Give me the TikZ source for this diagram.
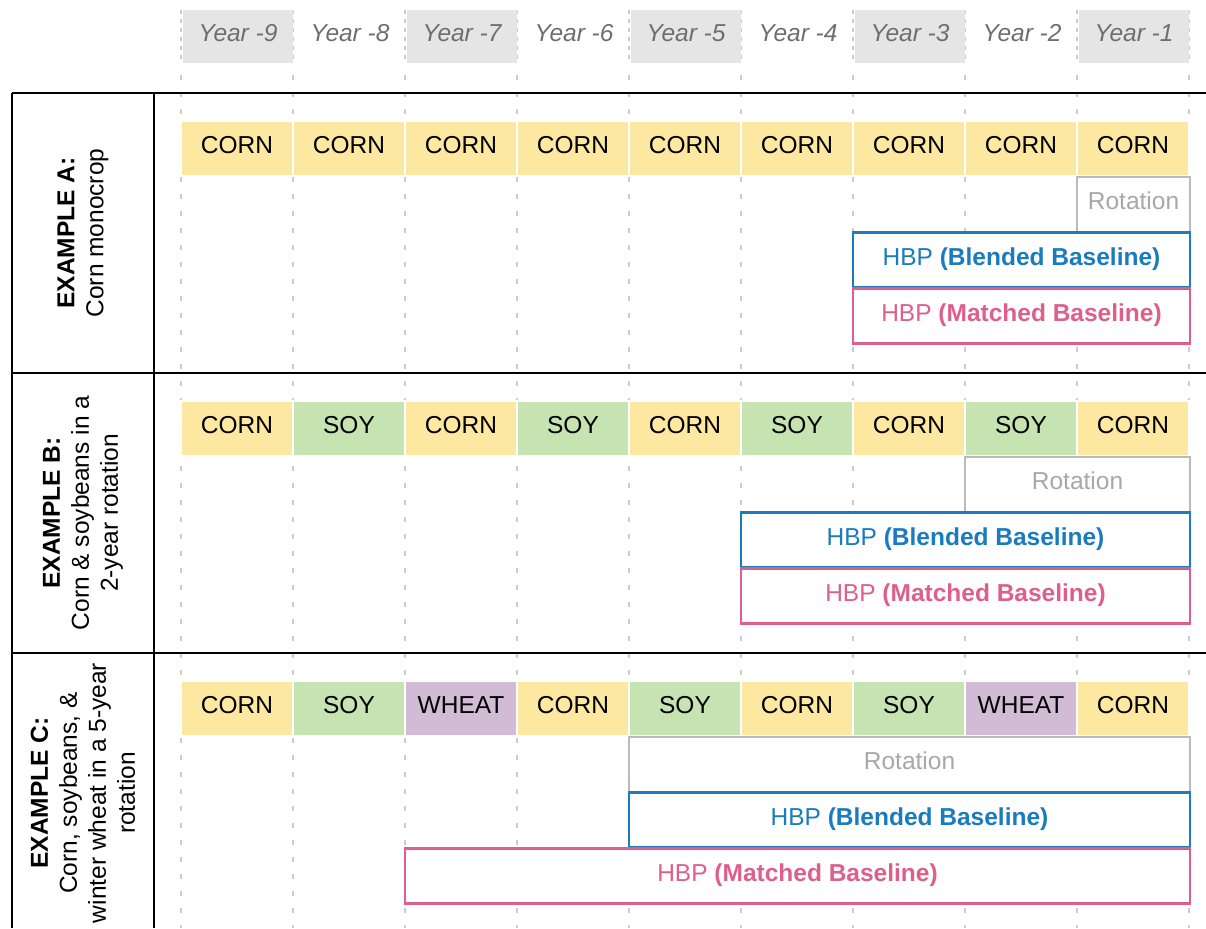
\documentclass[tikz,border=0pt]{standalone}
\usepackage{fontspec}
\setmainfont{Liberation Sans}
\definecolor{cornc}{HTML}{FDE8A2}
\definecolor{soyc}{HTML}{C5E4B2}
\definecolor{wheatc}{HTML}{D2BCD5}
\definecolor{headc}{HTML}{E5E5E5}
\definecolor{yeartxt}{HTML}{6E6E6E}
\definecolor{gridc}{HTML}{CCCCCC}
\definecolor{rotc}{HTML}{BBBBBB}
\definecolor{rottxt}{HTML}{A8A8A8}
\definecolor{blendc}{HTML}{1B7BBF}
\definecolor{matchc}{HTML}{DE5F89}
\tikzset{
  txt/.style={font=\fontsize{24.5}{29}\selectfont, text height=17.5, text depth=7},
  yearlbl/.style={txt, text=yeartxt, font=\fontsize{24.5}{29}\selectfont\itshape,
    minimum width=110, minimum height=53, inner sep=0, outer sep=0},
  cropcell/.style={txt, draw=white, line width=2, minimum width=112,
    minimum height=55, inner sep=0, outer sep=0},
  spanbox/.style={txt, fill=white, line width=2.6, inner sep=0, outer sep=0,
    minimum height=55},
  rotbox/.style={spanbox, draw=rotc, text=rottxt, line width=2.4},
  blendbox/.style={spanbox, draw=blendc, text=blendc},
  matchbox/.style={spanbox, draw=matchc, text=matchc},
  rowlbl/.style={font=\fontsize{24.5}{29}\selectfont, rotate=90, align=center, inner sep=0},
  gridline/.style={draw=gridc, line width=2, dash pattern=on 5 off 12},
  headgrid/.style={draw=gridc, line width=1.5, dash pattern=on 4 off 5},
  frame/.style={draw=black, line width=2.8},
}
\begin{document}
\begin{tikzpicture}[x=1pt, y=-1pt]
\useasboundingbox (0,0) rectangle (1206,928);
\clip (0,0) rectangle (1206,928);

% dotted year separators
\foreach \k in {0,...,9} {
  \draw[headgrid] (181+112*\k, 10) -- (181+112*\k, 64);
  \draw[gridline] (181+112*\k, 75) -- (181+112*\k, 928);
}

% year header
\foreach \y [count=\i] in {9,8,7,6,5,4,3,2,1} {
  \pgfmathtruncatemacro{\odd}{mod(\i,2)}
  \ifnum\odd=1
    \node[yearlbl, fill=headc] (h\i) at (181+112*\i-55, 36.5) {Year -\y};
  \else
    \node[yearlbl] (h\i) at (181+112*\i-55, 36.5) {Year -\y};
  \fi
}

% table frame
\draw[frame] (12,93) -- (1206,93);
\draw[frame] (12,373) -- (1206,373);
\draw[frame] (12,653) -- (1206,653);
\draw[frame] (12,93) -- (12,928);
\draw[frame] (154,93) -- (154,928);

% row labels
\node[rowlbl] (la) at (83,233) {\textbf{EXAMPLE A:}\\Corn monocrop};
\node[rowlbl] (lb) at (83,513) {\textbf{EXAMPLE B:}\\Corn \& soybeans in a\\2-year rotation};
\node[rowlbl] (lc) at (83,793) {\textbf{EXAMPLE C:}\\Corn, soybeans, \&\\winter wheat in a 5-year\\rotation};

% crops, example A
\foreach \t/\c [count=\i] in {CORN/cornc,CORN/cornc,CORN/cornc,CORN/cornc,CORN/cornc,CORN/cornc,CORN/cornc,CORN/cornc,CORN/cornc}
  \node[cropcell, fill=\c] (a\i) at (181+112*\i-56, 148.5) {\t};
% crops, example B
\foreach \t/\c [count=\i] in {CORN/cornc,SOY/soyc,CORN/cornc,SOY/soyc,CORN/cornc,SOY/soyc,CORN/cornc,SOY/soyc,CORN/cornc}
  \node[cropcell, fill=\c] (b\i) at (181+112*\i-56, 428.5) {\t};
% crops, example C
\foreach \t/\c [count=\i] in {CORN/cornc,SOY/soyc,WHEAT/wheatc,CORN/cornc,SOY/soyc,CORN/cornc,SOY/soyc,WHEAT/wheatc,CORN/cornc}
  \node[cropcell, fill=\c] (c\i) at (181+112*\i-56, 708.5) {\t};

% baseline spans, example A
\node[rotbox, minimum width=113] (ra) at (1133.5,204.5) {Rotation};
\node[blendbox, minimum width=337] (ba) at (1021.5,260) {HBP \textbf{(Blended Baseline)}};
\node[matchbox, minimum width=337] (ma) at (1021.5,316) {HBP \textbf{(Matched Baseline)}};

% baseline spans, example B
\node[rotbox, minimum width=225] (rb) at (1077.5,484.5) {Rotation};
\node[blendbox, minimum width=449] (bb) at (965.5,540) {HBP \textbf{(Blended Baseline)}};
\node[matchbox, minimum width=449] (mb) at (965.5,596) {HBP \textbf{(Matched Baseline)}};

% baseline spans, example C
\node[rotbox, minimum width=561] (rc) at (909.5,764.5) {Rotation};
\node[blendbox, minimum width=561] (bc) at (909.5,820) {HBP \textbf{(Blended Baseline)}};
\node[matchbox, minimum width=785] (mc) at (797.5,876) {HBP \textbf{(Matched Baseline)}};
\end{tikzpicture}
\end{document}
